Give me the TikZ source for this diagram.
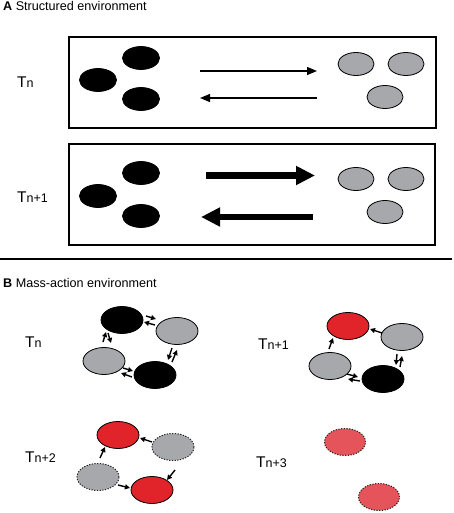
\documentclass[tikz,border=0pt]{standalone}
\usepackage{fontspec}
\setmainfont{Liberation Sans}
\usetikzlibrary{shapes.geometric,arrows.meta,calc}
\definecolor{mgray}{HTML}{A6A8AB}
\definecolor{mred}{HTML}{E1242A}
\definecolor{lred}{HTML}{E4545A}
\definecolor{dotc}{HTML}{202020}
\tikzset{
  frame/.style={draw=black, line width=1.4pt},
  blkA/.style={ellipse, fill=black, draw=black, line width=0.8pt, inner sep=0, minimum width=37pt, minimum height=23pt},
  gryA/.style={ellipse, fill=mgray, draw=black, line width=0.8pt, inner sep=0, minimum width=36pt, minimum height=23pt},
  blkB/.style={ellipse, fill=black, draw=black, line width=0.8pt, inner sep=0, minimum width=42pt, minimum height=27pt},
  gryB/.style={ellipse, fill=mgray, draw=black, line width=0.8pt, inner sep=0, minimum width=42pt, minimum height=27pt},
  redB/.style={ellipse, fill=mred, draw=black, line width=0.8pt, inner sep=0, minimum width=42pt, minimum height=27pt},
  gdotB/.style={ellipse, fill=mgray, draw=dotc, line width=1pt, dash pattern=on 1.2pt off 1.5pt, inner sep=0, minimum width=42pt, minimum height=27pt},
  rdotB/.style={ellipse, fill=lred, draw=dotc, line width=1pt, dash pattern=on 1.2pt off 1.5pt, inner sep=0, minimum width=41pt, minimum height=27pt},
  thinarr/.style={line width=1.3pt, -{Triangle[length=10pt,width=8pt]}},
  thickarr/.style={line width=6.5pt, -{Triangle[length=19pt,width=18pt]}},
  sarr/.style={line width=1.4pt, -{Triangle[length=5pt,width=5pt]}},
  title/.style={anchor=base west, inner sep=0, font=\fontsize{12.6}{15}\selectfont},
  tlab/.style={anchor=base west, inner sep=0},
}
\newcommand{\tl}[1]{\fontsize{15.5}{18}\selectfont T\fontsize{12.5}{15}\selectfont #1}
\begin{document}
\begin{tikzpicture}[x=1pt, y=-1pt]
\useasboundingbox (0,0) rectangle (454,513);

% ---------- Part A ----------
\node[title] (titA) at (3,11) {\textbf{A} Structured environment};

\node[frame, minimum width=367pt, minimum height=91pt, inner sep=0] (box1) at (252.5,82.5) {};
\node[frame, minimum width=366pt, minimum height=101pt, inner sep=0] (box2) at (252,194.5) {};

\node[tlab] (lA1) at (17,88) {\tl{n}};
\node[tlab] (lA2) at (17,202) {\tl{n+1}};

\node[blkA] (a1b1) at (98,80) {};
\node[blkA] (a1b2) at (141,58) {};
\node[blkA] (a1b3) at (141,99) {};
\node[gryA] (a1g1) at (356,64) {};
\node[gryA] (a1g2) at (406,64) {};
\node[gryA] (a1g3) at (385,97) {};

\node[blkA] (a2b1) at (98,196) {};
\node[blkA] (a2b2) at (141,173) {};
\node[blkA] (a2b3) at (141,216) {};
\node[gryA] (a2g1) at (356,179) {};
\node[gryA] (a2g2) at (406,179) {};
\node[gryA] (a2g3) at (385,212) {};

\coordinate (f1s) at (200,71);
\coordinate (f1e) at (317,71);
\coordinate (r1s) at (317,98);
\coordinate (r1e) at (200,98);
\draw[thinarr] (f1s) -- (f1e);
\draw[thinarr] (r1s) -- (r1e);

\coordinate (f2s) at (206,175.5);
\coordinate (f2e) at (315,175.5);
\coordinate (r2s) at (313,217);
\coordinate (r2e) at (201,217);
\draw[thickarr] (f2s) -- (f2e);
\draw[thickarr] (r2s) -- (r2e);

% separator
\coordinate (sepL) at (0,259);
\coordinate (sepR) at (452,259);
\draw[line width=2pt] (sepL) -- (sepR);

% ---------- Part B ----------
\node[title] (titB) at (3,287) {\textbf{B} Mass-action environment};

\node[tlab] (lB1) at (25,347) {\tl{n}};
\node[tlab] (lB2) at (258,349) {\tl{n+1}};
\node[tlab] (lB3) at (25,462) {\tl{n+2}};
\node[tlab] (lB4) at (256,467) {\tl{n+3}};

% Tn
\node[blkB] (t0b1) at (122,320) {};
\node[gryB] (t0g1) at (177,331) {};
\node[gryB] (t0g2) at (104,361) {};
\node[blkB] (t0b2) at (155,375) {};
\draw[sarr] ($(t0b1)+(24,-4)$) -- ($(t0g1)+(-21,-12)$);
\draw[sarr] ($(t0g1)+(-22,-6)$) -- ($(t0b1)+(22,2)$);
\draw[sarr] ($(t0g2)+(-1,-19)$) -- ($(t0b1)+(-16,12)$);
\draw[sarr] ($(t0b1)+(-14,13)$) -- ($(t0g2)+(7,-18)$);
\draw[sarr] ($(t0g1)+(-5,17)$) -- ($(t0b2)+(13,-15)$);
\draw[sarr] ($(t0b2)+(17,-13)$) -- ($(t0g1)+(0,19)$);
\draw[sarr] ($(t0g2)+(19,7)$) -- ($(t0b2)+(-22,-4)$);
\draw[sarr] ($(t0b2)+(-23,2)$) -- ($(t0g2)+(17,12)$);

% Tn+1
\node[redB] (t1r1) at (348,326) {};
\node[gryB] (t1g1) at (402,337) {};
\node[gryB] (t1g2) at (330,366) {};
\node[blkB] (t1b1) at (383,379) {};
\draw[sarr] ($(t1g1)+(-20,-4)$) -- ($(t1r1)+(22,3)$);
\draw[sarr] ($(t1g2)+(-1,-17)$) -- ($(t1r1)+(-15,12)$);
\draw[sarr] ($(t1g1)+(-5,17)$) -- ($(t1b1)+(13,-14)$);
\draw[sarr] ($(t1b1)+(17,-12)$) -- ($(t1g1)+(0,19)$);
\draw[sarr] ($(t1g2)+(17,8)$) -- ($(t1b1)+(-25,-2)$);
\draw[sarr] ($(t1b1)+(-23,2)$) -- ($(t1g2)+(18,13)$);

% Tn+2
\node[redB] (t2r1) at (118,435) {};
\node[gdotB] (t2g1) at (173,447) {};
\node[gdotB] (t2g2) at (98,477) {};
\node[redB] (t2r2) at (152,490) {};
\draw[sarr] ($(t2g2)+(2,-19)$) -- ($(t2r1)+(-13,12)$);
\draw[sarr] ($(t2g1)+(-21,-5)$) -- ($(t2r1)+(22,3)$);
\draw[sarr] ($(t2g2)+(20,8)$) -- ($(t2r2)+(-22,-2)$);
\draw[sarr] ($(t2g1)+(2,23)$) -- ($(t2r2)+(15,-10)$);

% Tn+3
\node[rdotB] (t3r1) at (345,442) {};
\node[rdotB] (t3r2) at (379,497) {};
\end{tikzpicture}
\end{document}
